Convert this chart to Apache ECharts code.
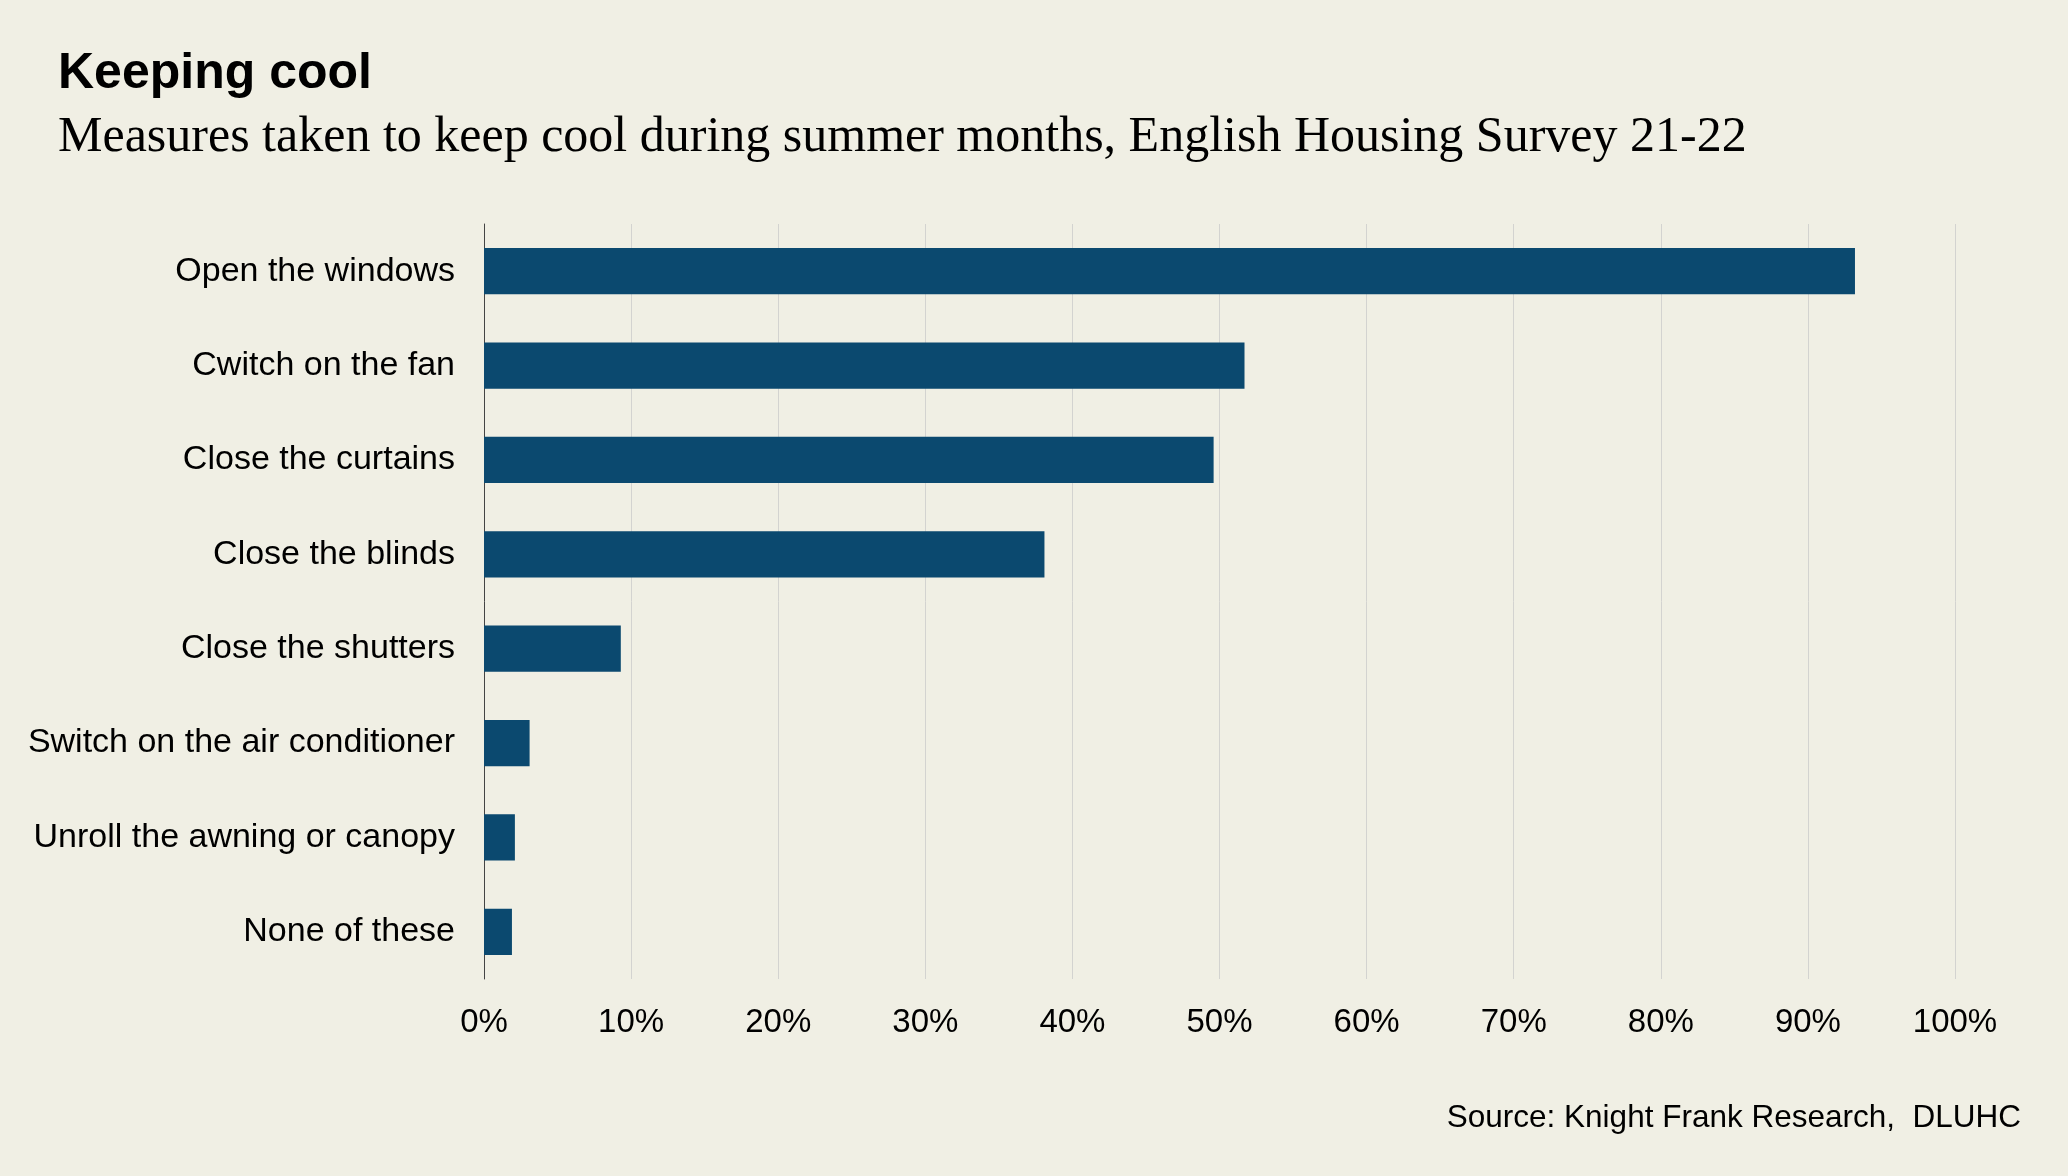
<!DOCTYPE html>
<html>
<head>
<meta charset="utf-8">
<script src="https://cdn.jsdelivr.net/npm/echarts@6/dist/echarts.min.js"></script>
<style>
html,body{margin:0;padding:0;background:#f0efe4;}
#c{width:2068px;height:1176px;}
</style>
</head>
<body>
<div id="c"></div>
<script>
const categories = ["Open the windows","Cwitch on the fan","Close the curtains","Close the blinds","Close the shutters","Switch on the air conditioner","Unroll the awning or canopy","None of these"];
const values = [93.2, 51.7, 49.6, 38.1, 9.3, 3.1, 2.1, 1.9];
const tickLabels = ["0%","10%","20%","30%","40%","50%","60%","70%","80%","90%","100%"];

const chart = echarts.init(document.getElementById('c'));
chart.setOption({
  backgroundColor: '#f0efe4',
  animation: false,
  title: [
    {text: 'Keeping cool', left: 53, top: 44,
     textStyle: {fontFamily: 'Liberation Sans', fontWeight: 'bold', fontSize: 50, color: '#000'}},
    {text: 'Measures taken to keep cool during summer months, English Housing Survey 21-22', left: 53, top: 108,
     textStyle: {fontFamily: 'Liberation Serif', fontWeight: 'normal', fontSize: 50, color: '#000'}},
    {text: 'Source: Knight Frank Research,  DLUHC', right: 42, top: 1097,
     textStyle: {fontFamily: 'Liberation Sans', fontWeight: 'normal', fontSize: 31.5, color: '#000'}}
  ],
  grid: {left: 484, right: 2068 - 1955, top: 224, bottom: 1176 - 979, containLabel: false},
  xAxis: {
    type: 'value', min: 0, max: 100, interval: 10,
    axisLine: {show: false}, axisTick: {show: false},
    splitLine: {show: true, lineStyle: {color: '#d3d3d0', width: 1}},
    axisLabel: {formatter: v => tickLabels[Math.round(v / 10)], fontFamily: 'Liberation Sans', fontSize: 33, color: '#000', margin: 27}
  },
  yAxis: {
    type: 'category', data: categories, inverse: true,
    axisLine: {show: true, lineStyle: {color: '#444', width: 1}},
    axisTick: {show: false},
    axisLabel: {fontFamily: 'Liberation Sans', fontSize: 34, color: '#000', margin: 29}
  },
  series: [{
    type: 'bar', data: values, barWidth: '49%',
    itemStyle: {color: '#0b496f'}
  }]
});
</script>
</body>
</html>
